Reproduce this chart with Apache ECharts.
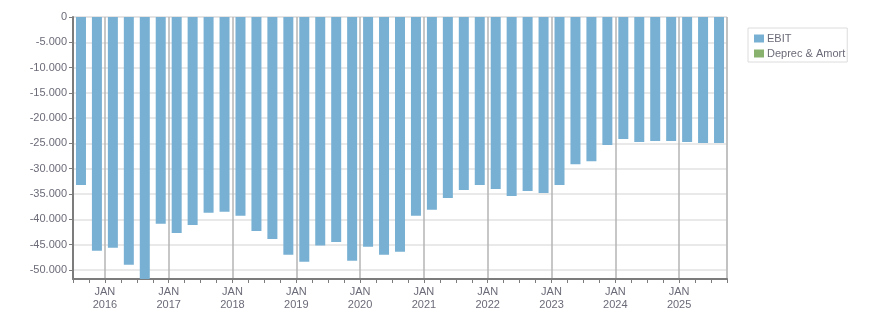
<!DOCTYPE html>
<html>
<head>
<meta charset="utf-8">
<script src="https://cdn.jsdelivr.net/npm/echarts@6/dist/echarts.min.js"></script>
<style>
  html, body { margin: 0; padding: 0; background: #fff; }
  #chart { width: 876px; height: 313px; }
</style>
</head>
<body>
<div id="chart"></div>
<script>
// quarters Q3 2015 .. Q3 2025
const quarters = [
  '2015Q3', '2015Q4',
  '2016Q1', '2016Q2', '2016Q3', '2016Q4',
  '2017Q1', '2017Q2', '2017Q3', '2017Q4',
  '2018Q1', '2018Q2', '2018Q3', '2018Q4',
  '2019Q1', '2019Q2', '2019Q3', '2019Q4',
  '2020Q1', '2020Q2', '2020Q3', '2020Q4',
  '2021Q1', '2021Q2', '2021Q3', '2021Q4',
  '2022Q1', '2022Q2', '2022Q3', '2022Q4',
  '2023Q1', '2023Q2', '2023Q3', '2023Q4',
  '2024Q1', '2024Q2', '2024Q3', '2024Q4',
  '2025Q1', '2025Q2', '2025Q3',
]

const ebit = [
  -33200, -46200,
  -45600, -49000, -52500, -40900,
  -42700, -41100, -38700, -38500,
  -39300, -42300, -43900, -47000,
  -48400, -45200, -44500, -48200,
  -45400, -47000, -46400, -39300,
  -38100, -35800, -34200, -33200,
  -34000, -35400, -34400, -34800,
  -33200, -29100, -28500, -25300,
  -24100, -24700, -24500, -24500,
  -24700, -24900, -24900,
]

const deprecAmort = quarters.map(() => 0)

const yMin = -51800
const yMax = 0

const textColor = '#6b6b78'
const fontFamily = 'Liberation Sans, Arial, sans-serif'

const isJan = v => v.endsWith('Q1')

function fmtThousands(v) {
  const s = String(Math.abs(v)).replace(/\B(?=(\d{3})+(?!\d))/g, '.')
  return (v < 0 ? '-' : '') + s
}

const chart = echarts.init(document.getElementById('chart'))

chart.setOption({
  animation: false,
  textStyle: { fontFamily },
  grid: {
    left: 73,
    top: 17,
    width: 654,
    height: 262,
    show: true,
    borderColor: '#dcdcdc',
    borderWidth: 1,
  },
  legend: {
    orient: 'vertical',
    left: 748,
    top: 28,
    padding: [5, 2, 3, 6],
    borderColor: '#dcdcdc',
    borderWidth: 1,
    itemWidth: 10,
    itemHeight: 8,
    itemGap: 4,
    icon: 'rect',
    textStyle: { fontSize: 11, color: textColor, fontFamily, padding: [0, 0, 0, -2] },
    data: ['EBIT', 'Deprec & Amort'],
  },
  xAxis: {
    type: 'category',
    data: quarters,
    boundaryGap: true,
    axisLine: { onZero: false, lineStyle: { color: '#7c7c7c', width: 2 } },
    axisTick: { show: true, interval: 0, length: 4, lineStyle: { color: '#7c7c7c' } },
    splitLine: {
      show: true,
      interval: (i, v) => isJan(v),
      lineStyle: { color: '#b4b4b4', width: 1.5 },
    },
    axisLabel: {
      interval: (i, v) => isJan(v),
      formatter: v => 'JAN\n' + v.slice(0, 4),
      color: textColor,
      fontSize: 11,
      lineHeight: 13,
      margin: 6,
      padding: [0, 16, 0, 0],
    },
  },
  yAxis: {
    type: 'value',
    min: yMin,
    max: yMax,
    splitNumber: 10,
    axisLine: { show: true, lineStyle: { color: '#7c7c7c', width: 2 } },
    axisTick: { show: true, length: 4, lineStyle: { color: '#7c7c7c' } },
    splitLine: { lineStyle: { color: '#e2e2e2', width: 1.5 } },
    axisLabel: {
      showMinLabel: false,
      formatter: fmtThousands,
      color: textColor,
      fontSize: 11,
      margin: 6,
    },
  },
  series: [
    {
      name: 'EBIT',
      type: 'bar',
      data: ebit,
      barWidth: 10,
      barGap: '-100%',
      itemStyle: { color: '#78b0d3' },
    },
    {
      name: 'Deprec & Amort',
      type: 'bar',
      data: deprecAmort,
      barWidth: 10,
      itemStyle: { color: '#89b26e' },
    },
  ],
})
</script>
</body>
</html>
